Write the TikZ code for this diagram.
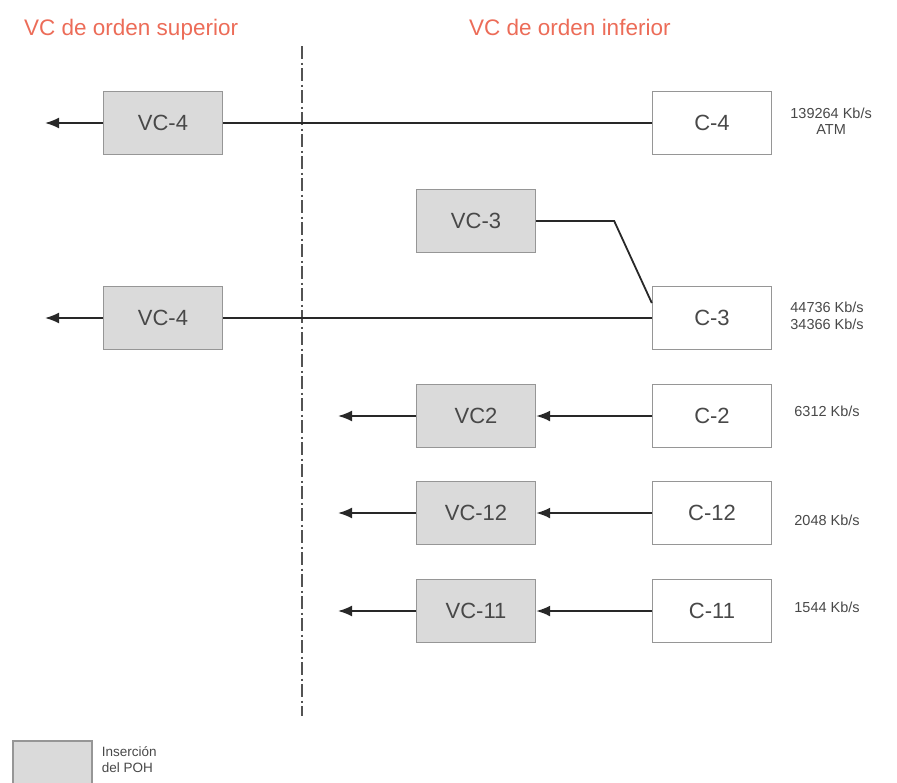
\documentclass[tikz,border=0pt]{standalone}
\usepackage{fontspec}
\setmainfont{Liberation Sans}
\usetikzlibrary{positioning, arrows.meta}
\definecolor{titleRed}{RGB}{236,108,88}
\definecolor{boxGray}{RGB}{218,218,218}
\definecolor{edgeGray}{RGB}{150,150,150}
\definecolor{inkGray}{RGB}{72,72,72}
\definecolor{lineDark}{RGB}{40,40,40}

\begin{document}
\begin{tikzpicture}[x=1pt, y=1pt,
    vcbox/.style={draw=edgeGray, line width=1.4pt, fill=boxGray, minimum width=119pt,
                  minimum height=63pt, inner sep=0pt, text=inkGray,
                  font=\fontsize{22}{24}\selectfont},
    cbox/.style={vcbox, fill=white},
    link/.style={draw=lineDark, line width=1.8pt},
    outlink/.style={link, -{Latex[length=14pt, width=11pt]}},
    rate/.style={text=inkGray, align=center, inner sep=0pt,
                 font=\fontsize{14.5}{16.5}\selectfont},
    title/.style={text=titleRed, anchor=base west, inner sep=0pt,
                  font=\fontsize{22.5}{25}\selectfont}]
  \useasboundingbox (0,0) rectangle (897,-782);

  % titles and border between the two orders
  \node[title] (tSup) at (24,-35) {VC de orden superior};
  \node[title] (tInf) at (469,-35) {VC de orden inferior};
  \draw[lineDark!80, line width=1.6pt,
        dash pattern=on 13pt off 3.5pt on 2pt off 3.5pt] (302,-46) -- (302,-716);

  % containers and virtual containers
  \node[vcbox] (vcTop) at (163,-123) {VC-4};
  \node[cbox]  (cFour) at (712,-123) {C-4};
  \node[vcbox] (vcThree) at (476,-221) {VC-3};
  \node[cbox]  (cThree) at (712,-318) {C-3};
  \node[vcbox] (vcLow) at (163,-318) {VC-4};
  \node[vcbox] (vcTwo) at (476,-416) {VC2};
  \node[cbox]  (cTwo) at (712,-416) {C-2};
  \node[vcbox] (vcTwelve) at (476,-513) {VC-12};
  \node[cbox]  (cTwelve) at (712,-513) {C-12};
  \node[vcbox] (vcEleven) at (476,-611) {VC-11};
  \node[cbox]  (cEleven) at (712,-611) {C-11};

  % bit rates
  \node[rate, right=18pt of cFour, yshift=2pt] (rFour) {139264 Kb/s\\ATM};
  \node[rate, right=18pt of cThree, yshift=2pt] (rThree) {44736 Kb/s\\34366 Kb/s};
  \node[rate, right=22pt of cTwo, yshift=5pt] (rTwo) {6312 Kb/s};
  \node[rate, right=22pt of cTwelve, yshift=-7pt] (rTwelve) {2048 Kb/s};
  \node[rate, right=22pt of cEleven, yshift=3.5pt] (rEleven) {1544 Kb/s};

  % free ends of the arrows
  \coordinate (oTop) at (45,-123);
  \coordinate (oLow) at (45,-318);
  \coordinate (oTwo) at (338,-416);
  \coordinate (oTwelve) at (338,-513);
  \coordinate (oEleven) at (338,-611);

  \draw[link] (cFour) -- (vcTop);
  \draw[outlink] (vcTop) -- (oTop);
  \draw[link] (cThree) -- (vcLow);
  \draw[outlink] (vcLow) -- (oLow);
  \draw[link] (vcThree.east) -- ++(78,0) -- (cThree.166);
  \draw[outlink] (cTwo) -- (vcTwo);
  \draw[outlink] (vcTwo) -- (oTwo);
  \draw[outlink] (cTwelve) -- (vcTwelve);
  \draw[outlink] (vcTwelve) -- (oTwelve);
  \draw[outlink] (cEleven) -- (vcEleven);
  \draw[outlink] (vcEleven) -- (oEleven);

  % legend
  \node[vcbox, minimum width=79pt, minimum height=46pt] (legBox) at (52.5,-764) {};
  \node[rate, align=left, anchor=west, right=9pt of legBox.north east, yshift=-19pt,
        font=\fontsize{13.5}{16}\selectfont] (legText) {Inserción\\del POH};
\end{tikzpicture}
\end{document}
